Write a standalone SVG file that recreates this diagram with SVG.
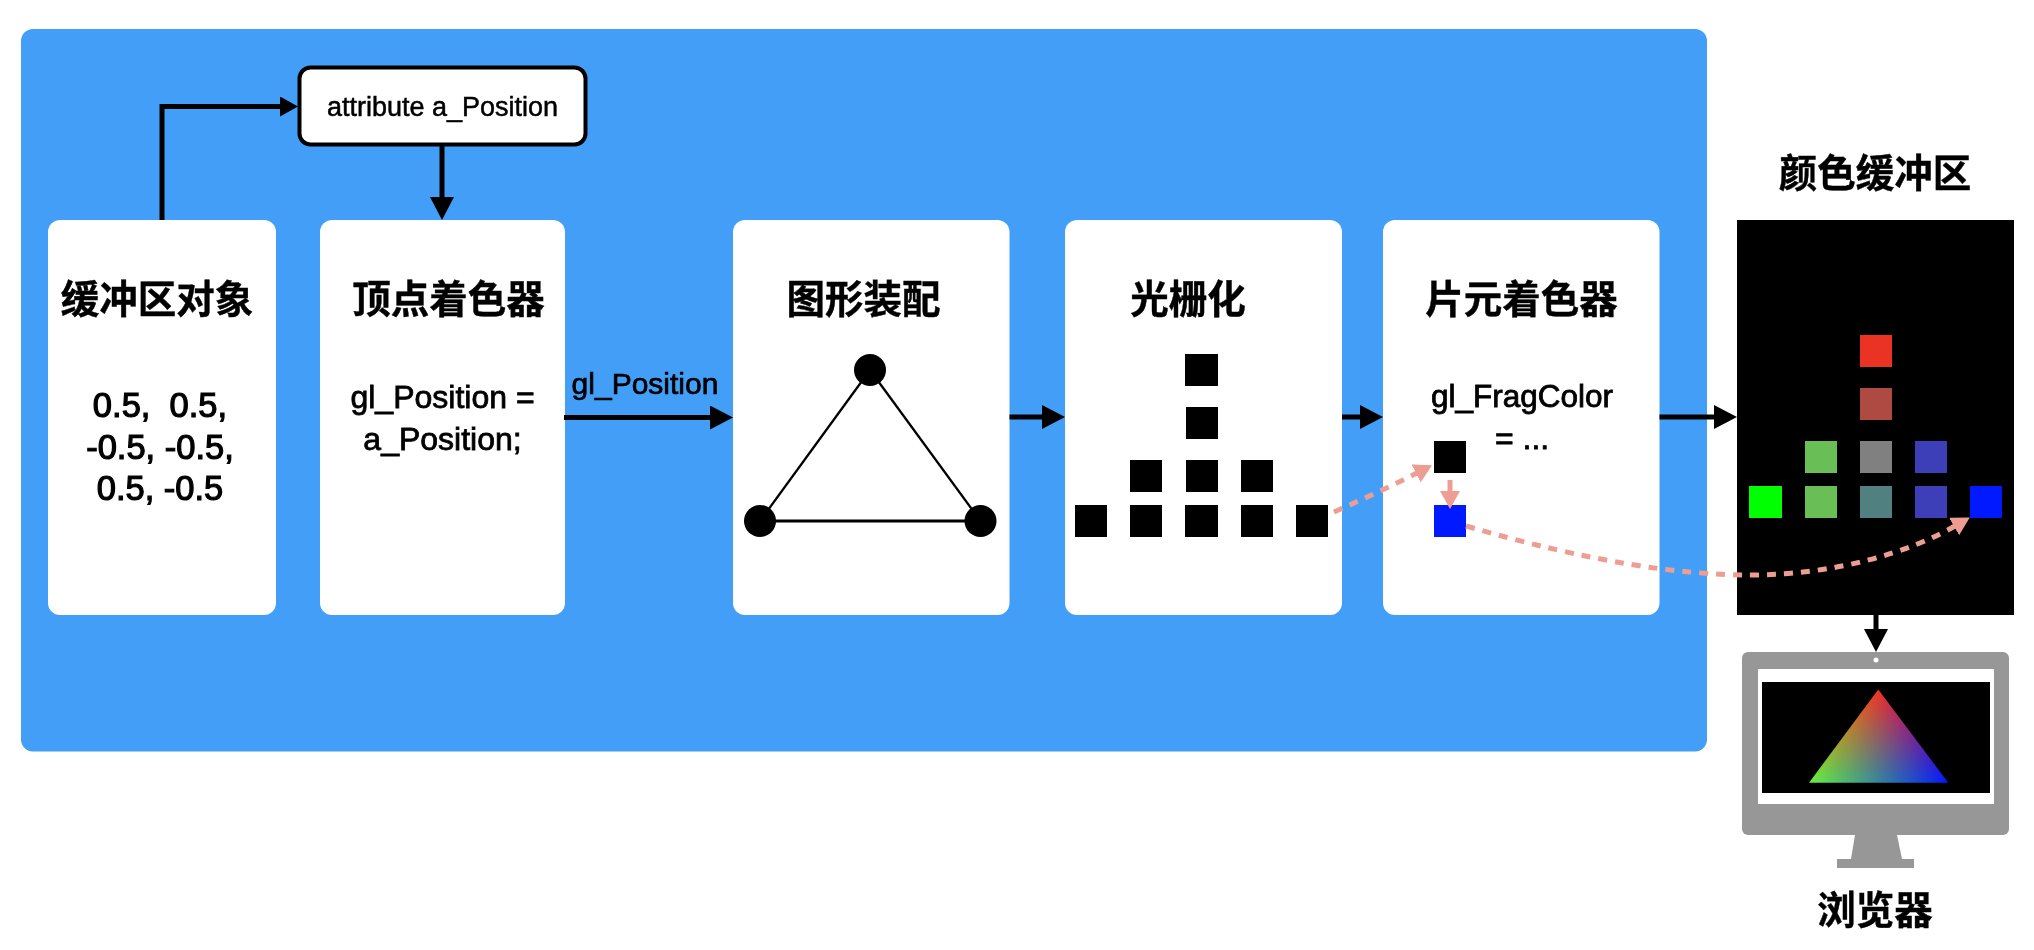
<svg xmlns="http://www.w3.org/2000/svg" width="2034" height="950" viewBox="0 0 2034 950">
  <style>
    text { font-family: "Liberation Sans", "Noto Sans CJK SC", sans-serif; fill: #000; text-anchor: middle; white-space: pre; }
    .title { font-size: 38.500px; font-weight: 700; stroke: #000; stroke-width: 0.4px; }
    .code { font-size: 32px; stroke: #000; stroke-width: 0.8px; }
    .nums { font-size: 34.500px; stroke: #000; stroke-width: 1.200px; }
    .panel { fill: #fff; }
    .k { fill: #000; }
    .conn { fill: none; stroke: #000; stroke-width: 5; }
    .pink { fill: none; stroke: #EE9D93; stroke-width: 5; }
    .dash { stroke-dasharray: 9 8; }
    .edge { stroke: #000; stroke-width: 2.300; }
    .add { mix-blend-mode: plus-lighter; }
  </style>
  <defs>
    <marker id="head" markerUnits="userSpaceOnUse" markerWidth="25" markerHeight="26" refX="1" refY="12" orient="auto"><path d="M0 0L23 12L0 24Z" fill="#000"/></marker>
    <marker id="headS" markerUnits="userSpaceOnUse" markerWidth="20" markerHeight="22" refX="1" refY="10" orient="auto"><path d="M0 0L18 10L0 20Z" fill="#000"/></marker>
    <marker id="pinkHead" markerUnits="userSpaceOnUse" markerWidth="22" markerHeight="24" refX="1" refY="10" orient="auto"><path d="M0 0L18 10L0 20Z" fill="#EE9D93"/></marker>
    <linearGradient id="gR" gradientUnits="userSpaceOnUse" x1="1878.3" y1="689.5" x2="1878.3" y2="782.7"><stop offset="0" stop-color="#F03324"/><stop offset="1" stop-color="#000"/></linearGradient>
    <linearGradient id="gG" gradientUnits="userSpaceOnUse" x1="1809" y1="782.7" x2="1898.06" y2="715.8"><stop offset="0" stop-color="#66F040"/><stop offset="1" stop-color="#000"/></linearGradient>
    <linearGradient id="gB" gradientUnits="userSpaceOnUse" x1="1948.3" y1="782.7" x2="1858.6" y2="716"><stop offset="0" stop-color="#0019FF"/><stop offset="1" stop-color="#000"/></linearGradient>
  </defs>

  <rect id="pipeline-bg" x="21" y="29" width="1686" height="722.500" rx="12" fill="#439EF8"/>

  <g id="buffer-object">
    <rect class="panel" x="48" y="220" width="228" height="395" rx="12"/>
    <text class="title" x="157" y="313">缓冲区对象</text>
    <text class="nums" x="160" y="417">0.5,  0.5,</text>
    <text class="nums" x="160" y="459">-0.5, -0.5,</text>
    <text class="nums" x="160" y="500">0.5, -0.5</text>
  </g>

  <g id="attribute">
    <rect x="299.500" y="67.500" width="286" height="77" rx="11" fill="#fff" stroke="#000" stroke-width="4"/>
    <text x="442.500" y="116" font-size="27" stroke="#000" stroke-width="0.5">attribute a_Position</text>
  </g>

  <g id="vertex-shader">
    <rect class="panel" x="320" y="220" width="245" height="395" rx="12"/>
    <text class="title" x="448.500" y="313">顶点着色器</text>
    <text class="code" x="442.500" y="408">gl_Position =</text>
    <text class="code" x="442.500" y="450">a_Position;</text>
  </g>

  <g id="primitive-assembly">
    <rect class="panel" x="733" y="220" width="276.500" height="395" rx="12"/>
    <text class="title" x="863.500" y="313">图形装配</text>
    <line class="edge" x1="870" y1="370" x2="760" y2="521"/>
    <line class="edge" x1="870" y1="370" x2="980.500" y2="521"/>
    <line class="edge" x1="760" y1="521" x2="980.500" y2="521" style="stroke-width:3"/>
    <circle class="k" cx="870" cy="370" r="16"/>
    <circle class="k" cx="760" cy="521" r="16"/>
    <circle class="k" cx="980.500" cy="521" r="16"/>
  </g>

  <g id="rasterization">
    <rect class="panel" x="1065" y="220" width="277" height="395" rx="12"/>
    <text class="title" x="1188" y="313">光栅化</text>
    <rect class="k" x="1185" y="354" width="33" height="32"/>
    <rect class="k" x="1186" y="407" width="32" height="32"/>
    <rect class="k" x="1130" y="460" width="32" height="32"/>
    <rect class="k" x="1186" y="460" width="32" height="32"/>
    <rect class="k" x="1241" y="460" width="32" height="32"/>
    <rect class="k" x="1075" y="505" width="32" height="32"/>
    <rect class="k" x="1130" y="505" width="32" height="32"/>
    <rect class="k" x="1185" y="505" width="33" height="32"/>
    <rect class="k" x="1241" y="505" width="32" height="32"/>
    <rect class="k" x="1296" y="505" width="32" height="32"/>
  </g>

  <g id="fragment-shader">
    <rect class="panel" x="1383" y="220" width="276.500" height="395" rx="12"/>
    <text class="title" x="1521.500" y="313">片元着色器</text>
    <text class="code" x="1522" y="407" style="font-size:31.500px">gl_FragColor</text>
    <text class="code" x="1495" y="449" style="text-anchor:start;font-size:32px">= ...</text>
    <rect class="k" x="1434" y="441" width="32" height="32"/>
    <rect x="1434" y="505" width="32" height="32" fill="#0019FF"/>
  </g>

  <g id="color-buffer">
    <text class="title" x="1875" y="187">颜色缓冲区</text>
    <rect class="k" x="1737" y="220" width="277" height="395"/>
    <rect x="1860" y="335" width="32" height="32" fill="#EB3324"/>
    <rect x="1860" y="388" width="32" height="32" fill="#AF4A43"/>
    <rect x="1805" y="441" width="32" height="32" fill="#69BE55"/>
    <rect x="1860" y="441" width="32" height="32" fill="#808080"/>
    <rect x="1915" y="441" width="32" height="32" fill="#3D3FB8"/>
    <rect x="1749" y="486" width="33" height="32" fill="#00FF00"/>
    <rect x="1805" y="486" width="32" height="32" fill="#69BE55"/>
    <rect x="1860" y="486" width="32" height="32" fill="#508080"/>
    <rect x="1915" y="486" width="32" height="32" fill="#3D3FB8"/>
    <rect x="1970" y="486" width="32" height="32" fill="#0019FF"/>
  </g>

  <g id="browser">
    <rect x="1742" y="652" width="267" height="183" rx="6" fill="#979797"/>
    <rect x="1758" y="669" width="236" height="135" fill="#fff"/>
    <rect class="k" x="1762" y="682" width="228" height="111"/>
    <circle cx="1876" cy="660" r="2.500" fill="#fff"/>
    <path d="M1855 835H1897L1902 859H1914V868H1837V859H1851Z" fill="#979797"/>
    <g style="isolation:isolate">
      <path class="add" d="M1878.300 689.500L1809 782.700H1948.300Z" fill="url(#gR)"/>
      <path class="add" d="M1878.300 689.500L1809 782.700H1948.300Z" fill="url(#gG)"/>
      <path class="add" d="M1878.300 689.500L1809 782.700H1948.300Z" fill="url(#gB)"/>
    </g>
    <text class="title" x="1875" y="924">浏览器</text>
  </g>

  <g id="connectors">
    <path class="conn" d="M162 220V106.500H281" marker-end="url(#headS)"/>
    <path class="conn" d="M442 145V198" marker-end="url(#head)"/>
    <path class="conn" d="M564 417.500H711" marker-end="url(#head)"/>
    <path class="conn" d="M1009.500 417H1043" marker-end="url(#head)"/>
    <path class="conn" d="M1342 417H1361" marker-end="url(#head)"/>
    <path class="conn" d="M1659.500 417H1715" marker-end="url(#head)"/>
    <path class="conn" d="M1876 615V630" marker-end="url(#head)"/>
    <path class="pink dash" d="M1334 512C1365 498 1392 486 1417 473" marker-end="url(#pinkHead)"/>
    <path class="pink" d="M1450 480V492" marker-end="url(#pinkHead)"/>
    <path class="pink dash" d="M1466 526C1590 562 1680 575 1750 575C1835 575 1910 552 1955 526" marker-end="url(#pinkHead)"/>
    <text x="645" y="394" font-size="30" stroke="#000" stroke-width="0.7">gl_Position</text>
  </g>
</svg>
